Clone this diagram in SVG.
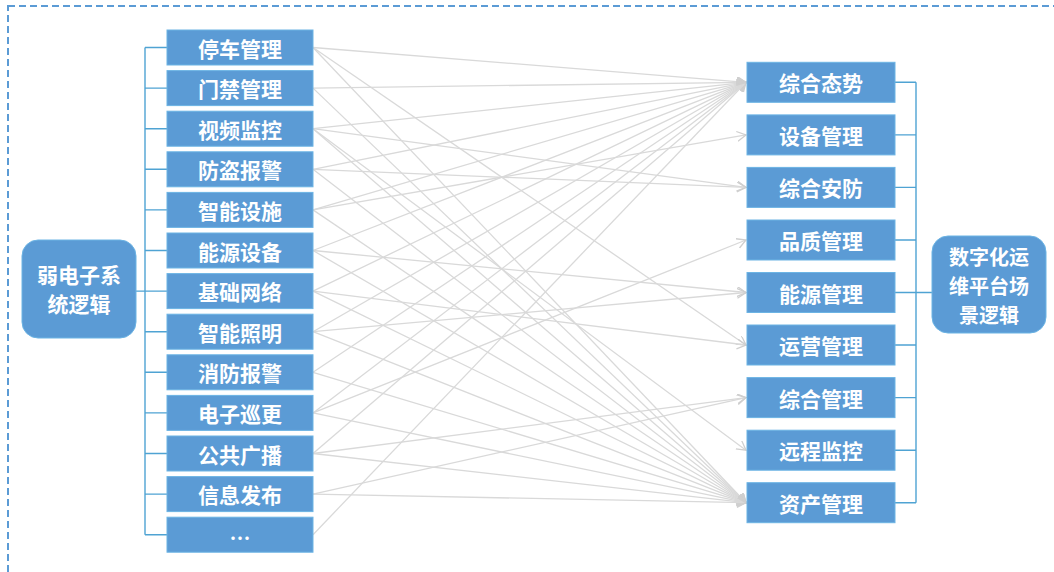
<svg xmlns="http://www.w3.org/2000/svg" width="1054" height="572" viewBox="0 0 1054 572">
<defs>
<style>
.box{fill:#5b9bd5;stroke:#6cb4e4;stroke-width:1}
.grp{fill:#5b9bd5;stroke:#6cb4e4;stroke-width:1}
.t{fill:#ffffff;font-family:"Noto Sans CJK SC","Noto Sans",sans-serif;font-weight:bold;font-size:21px;text-anchor:middle;dominant-baseline:central}
.t2{fill:#ffffff;font-family:"Noto Sans CJK SC","Noto Sans",sans-serif;font-weight:bold;font-size:20px;text-anchor:middle;dominant-baseline:central}
.br{stroke:#4fa3d3;stroke-width:1.4;fill:none}
.c{stroke:#d9d9d9;stroke-width:1.3;fill:none;marker-end:url(#arr)}
</style>
<marker id="arr" markerUnits="userSpaceOnUse" markerWidth="12" markerHeight="12" refX="9" refY="5" orient="auto">
<path d="M0,0 L9,5 L0,10" fill="none" stroke="#cfcfcf" stroke-width="1.3"/>
</marker>
</defs>
<rect x="8" y="6" width="1200" height="700" fill="none" stroke="#5b9bd5" stroke-width="2" stroke-dasharray="7,4"/>

<g id="connectors">
<line class="c" x1="313" y1="47.5" x2="746" y2="82.3"/>
<line class="c" x1="313" y1="47.5" x2="746" y2="345"/>
<line class="c" x1="313" y1="47.5" x2="746" y2="502.7"/>
<line class="c" x1="313" y1="88.1" x2="746" y2="82.3"/>
<line class="c" x1="313" y1="88.1" x2="746" y2="502.7"/>
<line class="c" x1="313" y1="128.7" x2="746" y2="82.3"/>
<line class="c" x1="313" y1="128.7" x2="746" y2="187.4"/>
<line class="c" x1="313" y1="128.7" x2="746" y2="450.2"/>
<line class="c" x1="313" y1="128.7" x2="746" y2="502.7"/>
<line class="c" x1="313" y1="169.3" x2="746" y2="82.3"/>
<line class="c" x1="313" y1="169.3" x2="746" y2="187.4"/>
<line class="c" x1="313" y1="169.3" x2="746" y2="502.7"/>
<line class="c" x1="313" y1="209.9" x2="746" y2="82.3"/>
<line class="c" x1="313" y1="209.9" x2="746" y2="134.9"/>
<line class="c" x1="313" y1="209.9" x2="746" y2="502.7"/>
<line class="c" x1="313" y1="250.5" x2="746" y2="82.3"/>
<line class="c" x1="313" y1="250.5" x2="746" y2="292.5"/>
<line class="c" x1="313" y1="250.5" x2="746" y2="502.7"/>
<line class="c" x1="313" y1="291.1" x2="746" y2="82.3"/>
<line class="c" x1="313" y1="291.1" x2="746" y2="345"/>
<line class="c" x1="313" y1="291.1" x2="746" y2="502.7"/>
<line class="c" x1="313" y1="331.7" x2="746" y2="82.3"/>
<line class="c" x1="313" y1="331.7" x2="746" y2="292.5"/>
<line class="c" x1="313" y1="331.7" x2="746" y2="502.7"/>
<line class="c" x1="313" y1="372.3" x2="746" y2="82.3"/>
<line class="c" x1="313" y1="372.3" x2="746" y2="502.7"/>
<line class="c" x1="313" y1="412.9" x2="746" y2="82.3"/>
<line class="c" x1="313" y1="412.9" x2="746" y2="240"/>
<line class="c" x1="313" y1="412.9" x2="746" y2="502.7"/>
<line class="c" x1="313" y1="453.5" x2="746" y2="82.3"/>
<line class="c" x1="313" y1="453.5" x2="746" y2="397.6"/>
<line class="c" x1="313" y1="453.5" x2="746" y2="502.7"/>
<line class="c" x1="313" y1="494.1" x2="746" y2="397.6"/>
<line class="c" x1="313" y1="494.1" x2="746" y2="502.7"/>
<line class="c" x1="313" y1="534.7" x2="746" y2="82.3"/>
</g>

<g id="left-bracket">
<path class="br" d="M145,47.5 V534.7 M145,47.5 H167 M145,88.1 H167 M145,128.7 H167 M145,169.3 H167 M145,209.9 H167 M145,250.5 H167 M145,291.1 H167 M145,331.7 H167 M145,372.3 H167 M145,412.9 H167 M145,453.5 H167 M145,494.1 H167 M145,534.7 H167 M136,291.1 H145"/>
</g>
<g id="right-bracket">
<path class="br" d="M916,82.3 V502.7 M895,82.3 H916 M895,134.9 H916 M895,187.4 H916 M895,240 H916 M895,292.5 H916 M895,345 H916 M895,397.6 H916 M895,450.2 H916 M895,502.7 H916 M916,292.5 H932"/>
</g>

<g id="weak-systems">
<rect class="grp" x="22" y="240" width="114" height="98" rx="16"/>
<text class="t" x="79" y="274"><tspan x="79" y="274">弱电子系</tspan><tspan x="79" y="303">统逻辑</tspan></text>
</g>
<g id="platform">
<rect class="grp" x="932" y="236" width="114" height="97" rx="16"/>
<text class="t2" x="989" y="255.5"><tspan x="989" y="255.5">数字化运</tspan><tspan x="989" y="284.5">维平台场</tspan><tspan x="989" y="313.5">景逻辑</tspan></text>
</g>

<g id="L0"><rect class="box" x="167" y="30" width="146" height="35"/><text class="t" x="240" y="47.5">停车管理</text></g>
<g id="L1"><rect class="box" x="167" y="70.6" width="146" height="35"/><text class="t" x="240" y="88.1">门禁管理</text></g>
<g id="L2"><rect class="box" x="167" y="111.2" width="146" height="35"/><text class="t" x="240" y="128.7">视频监控</text></g>
<g id="L3"><rect class="box" x="167" y="151.8" width="146" height="35"/><text class="t" x="240" y="169.3">防盗报警</text></g>
<g id="L4"><rect class="box" x="167" y="192.4" width="146" height="35"/><text class="t" x="240" y="209.9">智能设施</text></g>
<g id="L5"><rect class="box" x="167" y="233" width="146" height="35"/><text class="t" x="240" y="250.5">能源设备</text></g>
<g id="L6"><rect class="box" x="167" y="273.6" width="146" height="35"/><text class="t" x="240" y="291.1">基础网络</text></g>
<g id="L7"><rect class="box" x="167" y="314.2" width="146" height="35"/><text class="t" x="240" y="331.7">智能照明</text></g>
<g id="L8"><rect class="box" x="167" y="354.8" width="146" height="35"/><text class="t" x="240" y="372.3">消防报警</text></g>
<g id="L9"><rect class="box" x="167" y="395.4" width="146" height="35"/><text class="t" x="240" y="412.9">电子巡更</text></g>
<g id="L10"><rect class="box" x="167" y="436" width="146" height="35"/><text class="t" x="240" y="453.5">公共广播</text></g>
<g id="L11"><rect class="box" x="167" y="476.6" width="146" height="35"/><text class="t" x="240" y="494.1">信息发布</text></g>
<g id="L12"><rect class="box" x="167" y="517.2" width="146" height="35"/><text class="t" x="240" y="537">…</text></g>

<g id="R0"><rect class="box" x="747" y="62.3" width="148" height="40"/><text class="t" x="821" y="82.3">综合态势</text></g>
<g id="R1"><rect class="box" x="747" y="114.9" width="148" height="40"/><text class="t" x="821" y="134.9">设备管理</text></g>
<g id="R2"><rect class="box" x="747" y="167.4" width="148" height="40"/><text class="t" x="821" y="187.4">综合安防</text></g>
<g id="R3"><rect class="box" x="747" y="220" width="148" height="40"/><text class="t" x="821" y="240">品质管理</text></g>
<g id="R4"><rect class="box" x="747" y="272.5" width="148" height="40"/><text class="t" x="821" y="292.5">能源管理</text></g>
<g id="R5"><rect class="box" x="747" y="325" width="148" height="40"/><text class="t" x="821" y="345">运营管理</text></g>
<g id="R6"><rect class="box" x="747" y="377.6" width="148" height="40"/><text class="t" x="821" y="397.6">综合管理</text></g>
<g id="R7"><rect class="box" x="747" y="430.2" width="148" height="40"/><text class="t" x="821" y="450.2">远程监控</text></g>
<g id="R8"><rect class="box" x="747" y="482.7" width="148" height="40"/><text class="t" x="821" y="502.7">资产管理</text></g>
</svg>
